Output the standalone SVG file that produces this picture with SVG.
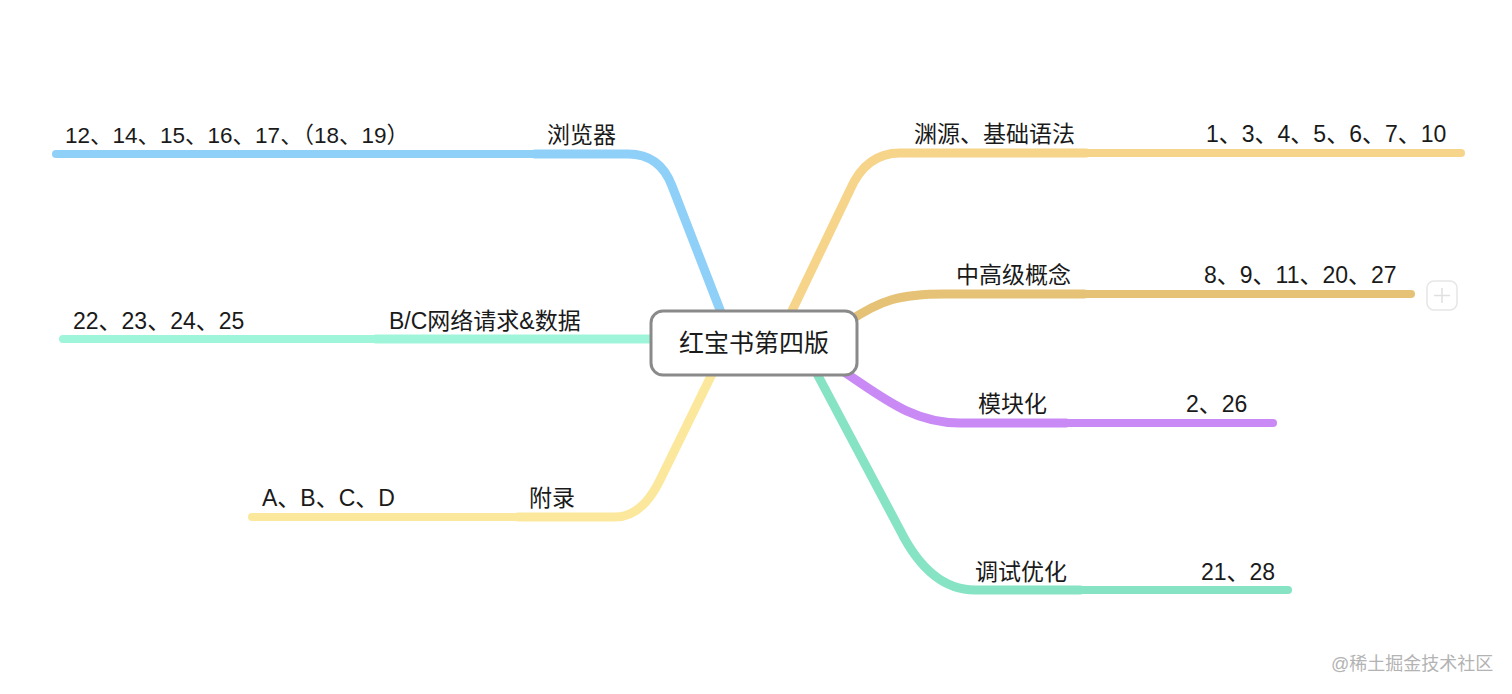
<svg xmlns="http://www.w3.org/2000/svg" width="1512" height="694" viewBox="0 0 1512 694">
<style>
  text { font-family: "Liberation Sans", "Noto Sans CJK SC", sans-serif; fill: #1a1a1a; }
  .lbl { font-size: 23px; }
  .root { font-size: 25px; text-anchor: middle; }
  .br { fill: none; stroke-width: 9; stroke-linecap: round; stroke-linejoin: round; }
  .ch { fill: none; stroke-width: 8; stroke-linecap: round; }
  .wm { font-size: 18px; fill: #b3b3b3; }
</style>
<rect width="1512" height="694" fill="#ffffff"/>
<g id="connectors">
  <path class="br" stroke="#8fd0f8" d="M 722 315 L 672 186 Q 660 154 628 154 L 535 154"/>
  <path class="ch" stroke="#8fd0f8" d="M 535 154 L 56 154"/>
  <path class="br" stroke="#9ff5d9" d="M 655 339 L 376 339"/>
  <path class="ch" stroke="#9ff5d9" d="M 376 339 L 63 339"/>
  <path class="br" stroke="#fce89c" d="M 713 372 L 660 480 Q 642 517 615 517 L 518 517"/>
  <path class="ch" stroke="#fce89c" d="M 518 517 L 252 517"/>
  <path class="br" stroke="#f6d48a" d="M 790 315 L 850 190 Q 866 153 900 153 L 1086 153"/>
  <path class="ch" stroke="#f6d48a" d="M 1086 153 L 1461 153"/>
  <path class="br" stroke="#e5c275" d="M 848 322 C 880 300 900 294 945 294 L 1084 294"/>
  <path class="ch" stroke="#e5c275" d="M 1084 294 L 1411 294"/>
  <path class="br" stroke="#c98af5" d="M 838 368 C 880 395 910 423 960 423 L 1066 423"/>
  <path class="ch" stroke="#c98af5" d="M 1066 423 L 1273 423"/>
  <path class="br" stroke="#86e3c3" d="M 815 370 L 900 530 Q 930 590 975 590 L 1080 590"/>
  <path class="ch" stroke="#86e3c3" d="M 1080 590 L 1288 590"/>
</g>
<g id="root">
  <rect x="651" y="311" width="206" height="64" rx="12" fill="#ffffff" stroke="#8a8a8a" stroke-width="3"/>
  <text class="root" x="754" y="352">红宝书第四版</text>
</g>
<g id="n-browser"><text class="lbl" x="547" y="143">浏览器</text></g>
<g id="n-browser-ch"><text class="lbl" x="65" y="143" style="font-size:22.5px">12、14、15、16、17、（18、19）</text></g>
<g id="n-net"><text class="lbl" x="389" y="329">B/C网络请求&amp;数据</text></g>
<g id="n-net-ch"><text class="lbl" x="73" y="329">22、23、24、25</text></g>
<g id="n-app"><text class="lbl" x="529" y="506">附录</text></g>
<g id="n-app-ch"><text class="lbl" x="262" y="506">A、B、C、D</text></g>
<g id="n-basic"><text class="lbl" x="914" y="142">渊源、基础语法</text></g>
<g id="n-basic-ch"><text class="lbl" x="1206" y="142">1、3、4、5、6、7、10</text></g>
<g id="n-adv"><text class="lbl" x="956" y="283">中高级概念</text></g>
<g id="n-adv-ch"><text class="lbl" x="1204" y="283">8、9、11、20、27</text></g>
<g id="n-mod"><text class="lbl" x="978" y="412">模块化</text></g>
<g id="n-mod-ch"><text class="lbl" x="1186" y="412">2、26</text></g>
<g id="n-debug"><text class="lbl" x="975" y="580">调试优化</text></g>
<g id="n-debug-ch"><text class="lbl" x="1201" y="580">21、28</text></g>
<g id="plus">
  <rect x="1427" y="281" width="30" height="29" rx="7" fill="#ffffff" stroke="#e6e6e6" stroke-width="1.5"/>
  <path d="M 1434 295.5 L 1450 295.5 M 1442 288 L 1442 303" stroke="#e0e0e0" stroke-width="1.5" fill="none"/>
</g>
<text class="wm" x="1331" y="670">@稀土掘金技术社区</text>
</svg>
